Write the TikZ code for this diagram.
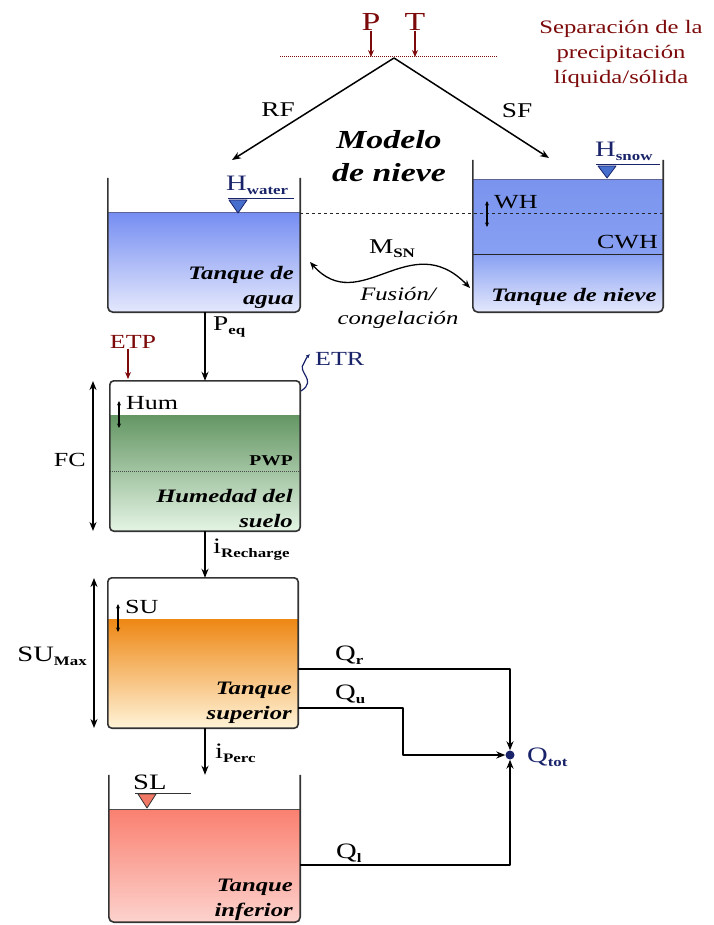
\documentclass[tikz,border=0pt]{standalone}
\usepackage{fontspec}
\setmainfont[FakeStretch=1.3]{Liberation Serif}
\usetikzlibrary{arrows.meta,calc}
\definecolor{dred}{RGB}{125,10,10}
\definecolor{navy}{RGB}{25,35,105}
\definecolor{wblue}{RGB}{118,142,242}
\definecolor{wblueM}{RGB}{135,158,244}
\definecolor{wblueL}{RGB}{228,232,252}
\definecolor{sblue}{RGB}{136,160,242}
\definecolor{sblueT}{RGB}{122,148,238}
\definecolor{tblue}{RGB}{70,110,205}
\definecolor{gtop}{RGB}{100,150,100}
\definecolor{gmid}{RGB}{130,172,130}
\definecolor{gbot}{RGB}{228,244,228}
\definecolor{otop}{RGB}{238,135,20}
\definecolor{omid}{RGB}{250,175,95}
\definecolor{obot}{RGB}{255,243,215}
\definecolor{rtop}{RGB}{250,128,112}
\definecolor{rmid}{RGB}{250,150,138}
\definecolor{rbot}{RGB}{252,210,205}
\definecolor{tred}{RGB}{240,120,100}
\newcommand\mysub[1]{{\fontsize{13}{13}\selectfont\bfseries\raisebox{-4pt}{#1}}}
\begin{document}
\begin{tikzpicture}[x=1pt,y=-1pt, line join=round,
  >={Stealth[length=9pt,width=7pt]},
  lbl/.style={font=\fontsize{20}{22}\selectfont, inner sep=0},
  tname/.style={font=\fontsize{19}{25}\selectfont\bfseries\itshape, align=right, anchor=east, inner sep=0},
  wall/.style={line width=1.6pt, draw=black!80, rounded corners=5pt},
  flow/.style={->, line width=1.5pt},
  small/.style={<->, line width=1.1pt, >={Stealth[length=4.5pt,width=4pt]}},
  tankbox/.style={inner sep=0, draw=none}]
\useasboundingbox (0,0) rectangle (713,925);

% ---------- top separation ----------
\coordinate (sepL) at (280,57);
\coordinate (sepR) at (498,57);
\draw[dred, densely dotted, line width=1pt] (sepL) -- (sepR);
\node[lbl, dred, font=\fontsize{26}{26}\selectfont] (P) at (371,22) {P};
\node[lbl, dred, font=\fontsize{26}{26}\selectfont] (T) at (415,22) {T};
\draw[flow, dred, >={Stealth[length=7pt,width=6pt]}] (P.south) -- (P.south |- sepL);
\draw[flow, dred, >={Stealth[length=7pt,width=6pt]}] (T.south) -- (T.south |- sepL);
\node[dred, font=\fontsize{19}{25}\selectfont, align=center, inner sep=0] (sep) at (621,54)
  {Separación de la\\precipitación\\líquida/sólida};

\coordinate (apex) at (394,58);
\coordinate (rfend) at (232,160);
\coordinate (sfend) at (549,158);
\draw[flow] (apex) -- (rfend);
\draw[flow] (apex) -- (sfend);
\node[lbl, font=\fontsize{21}{22}\selectfont] (RF) at (278,110) {RF};
\node[lbl, font=\fontsize{21}{22}\selectfont] (SF) at (517,111) {SF};
\node[font=\fontsize{26}{33}\selectfont\bfseries\itshape, align=center, inner sep=0] (mn) at (389,156) {Modelo\\de nieve};

% ---------- water tank ----------
\node[tankbox, minimum width=192pt, minimum height=134pt] (wt) at (204,245) {};
\begin{scope}
\clip[rounded corners=5pt] (108,170) rectangle (300,312);
\shade[top color=wblue, middle color=wblueM, bottom color=wblueL] (108,213) rectangle (300,312);
\end{scope}
\draw[navy!70, line width=1pt] (108,213) -- (300,213);
\draw[wall] (wt.north west) -- (wt.south west) -- (wt.south east) -- (wt.north east);
\node[navy, inner sep=0, anchor=west] (hw) at (226,185) {\fontsize{22}{22}\selectfont H\mysub{water}};
\draw[navy, line width=1pt] (228,199) -- (294,199);
\draw[navy, fill=tblue, line width=0.8pt] (229,200) -- (247,200) -- (238,213) -- cycle;
\node[tname] (tw) at (294,287) {Tanque de\\agua};

% ---------- snow tank ----------
\node[tankbox, minimum width=190pt, minimum height=152pt] (st) at (568,236) {};
\begin{scope}
\clip[rounded corners=5pt] (473,150) rectangle (663,312);
\shade[top color=sblueT, bottom color=sblue] (473,180) rectangle (663,254);
\shade[top color=sblue, bottom color=wblueL] (473,254) rectangle (663,312);
\end{scope}
\draw[navy!70, line width=1pt] (473,180) -- (663,180);
\draw[black!85, line width=0.8pt] (473,254) -- (663,254);
\draw[black!85, dashed, line width=0.9pt] (300,213) -- (663,213);
\draw[wall] (st.north west) -- (st.south west) -- (st.south east) -- (st.north east);
\node[navy, inner sep=0, anchor=west] (hs) at (595,151) {\fontsize{22}{22}\selectfont H\mysub{snow}};
\draw[navy, line width=1pt] (596,165) -- (660,165);
\draw[navy, fill=tblue, line width=0.8pt] (598,166) -- (616,166) -- (607,178) -- cycle;
\node[lbl, anchor=west] (wh) at (494,202) {WH};
\draw[small] (487,201) -- (487,227);
\node[lbl, anchor=east] (cwh) at (658,242) {CWH};
\node[tname, anchor=center] (tsn) at (574,297) {Tanque de nieve};

% ---------- melting ----------
\coordinate (m1) at (310,262);
\coordinate (m2) at (470,288);
\draw[<->, line width=1.3pt, >={Stealth[length=8pt,width=6.5pt]}] (m1) .. controls (360,318) and (410,226) .. (m2);
\node[inner sep=0] (msn) at (392,249) {\fontsize{21}{22}\selectfont M\mysub{SN}};
\node[font=\fontsize{19}{24}\selectfont\itshape, align=center, inner sep=0] (fus) at (398,308) {Fusión/\\congelación};

% ---------- soil tank ----------
\node[tankbox, minimum width=190pt, minimum height=150pt] (soil) at (205,456) {};
\begin{scope}
\clip[rounded corners=5pt] (110,381) rectangle (300,531);
\shade[top color=gtop, middle color=gmid, bottom color=gbot] (110,415) rectangle (300,531);
\end{scope}
\draw[black!70, densely dotted, line width=1pt] (110,471) -- (300,471);
\draw[wall, rounded corners=4pt] (soil.north west) rectangle (soil.south east);
\node[lbl, anchor=west] (hum) at (126,403) {Hum};
\draw[small] (119,401) -- (119,428);
\node[font=\fontsize{15}{16}\selectfont\bfseries, anchor=east, inner sep=0] (pwp) at (293,461) {PWP};
\node[tname] (th) at (293,509) {Humedad del\\suelo};
\coordinate (fc1) at (93,381);
\coordinate (fc2) at (93,531);
\draw[<->, line width=1.5pt] (fc1) -- (fc2);
\node[lbl, anchor=east] (fc) at (86,460) {FC};
\node[lbl, dred] (etp) at (133,342) {ETP};
\draw[flow, dred, >={Stealth[length=7pt,width=6pt]}] (etp.south -| 128,0) -- (128,379);
\draw[flow] (wt.south -| 205,0) -- (soil.north);
\node[inner sep=0, anchor=west] (peq) at (213,327) {\fontsize{21}{22}\selectfont P\mysub{eq}};
\node[lbl, navy, anchor=west] (etr) at (315,359) {ETR};
\coordinate (etr0) at (301,391);
\coordinate (etr1) at (310,354);
\draw[navy, line width=1.2pt, -{Latex[length=4pt,width=4pt]}] (etr0) .. controls (318,380) and (296,372) .. (304,363) .. controls (306,359) and (307,357) .. (etr1);

% ---------- upper tank ----------
\node[tankbox, minimum width=190pt, minimum height=150pt] (up) at (203,653) {};
\begin{scope}
\clip[rounded corners=5pt] (108,578) rectangle (298,728);
\shade[top color=otop, middle color=omid, bottom color=obot] (108,619) rectangle (298,728);
\end{scope}
\draw[wall, rounded corners=4pt] (up.north west) rectangle (up.south east);
\node[lbl, anchor=west] (su) at (125,607) {SU};
\draw[small] (118,604) -- (118,632);
\node[tname] (tsu) at (292,703) {Tanque\\superior};
\coordinate (sm1) at (94,578);
\coordinate (sm2) at (94,728);
\draw[<->, line width=1.5pt] (sm1) -- (sm2);
\node[inner sep=0, anchor=east] (sumax) at (87,656) {\fontsize{22}{22}\selectfont SU\mysub{Max}};
\draw[flow] (soil.south -| 205,0) -- (up.north -| 205,0);
\node[inner sep=0, anchor=west] (irec) at (213,550) {\fontsize{22}{22}\selectfont i\mysub{Recharge}};

% ---------- lower tank ----------
\node[tankbox, minimum width=191pt, minimum height=147pt] (low) at (204.5,848.5) {};
\begin{scope}
\clip[rounded corners=5pt] (109,770) rectangle (300,922);
\shade[top color=rtop, middle color=rmid, bottom color=rbot] (109,809) rectangle (300,922);
\end{scope}
\draw[black!70, line width=0.8pt] (109,809) -- (300,809);
\draw[wall] (low.north west) -- (low.south west) -- (low.south east) -- (low.north east);
\node[lbl, anchor=west, font=\fontsize{22}{22}\selectfont] (sl) at (133,782) {SL};
\draw[black!80, line width=1pt] (135,793) -- (191,793);
\draw[black!80, fill=tred, line width=0.8pt] (138,794) -- (156,794) -- (147,808) -- cycle;
\node[tname] (tin) at (293,900) {Tanque\\inferior};
\draw[flow] (up.south -| 205,0) -- (low.north -| 205,0);
\node[inner sep=0, anchor=west] (iperc) at (215,753) {\fontsize{22}{22}\selectfont i\mysub{Perc}};

% ---------- outflows ----------
\node[circle, fill=navy, inner sep=0, minimum size=9pt] (qt) at (510,755) {};
\node[navy, inner sep=0, anchor=west] (qtot) at (527,757) {\fontsize{22}{22}\selectfont Q\mysub{tot}};
\coordinate (qr0) at (298,669);
\coordinate (qu0) at (298,708);
\coordinate (qub) at (403,708);
\coordinate (ql0) at (300,865);
\draw[flow] (qr0) -| (qt.north);
\draw[flow] (qu0) -- (qub) |- (qt.west);
\draw[flow] (ql0) -| (qt.south);
\node[inner sep=0, anchor=west] (qr) at (335,655) {\fontsize{22}{22}\selectfont Q\mysub{r}};
\node[inner sep=0, anchor=west] (qu) at (335,694) {\fontsize{22}{22}\selectfont Q\mysub{u}};
\node[inner sep=0, anchor=west] (ql) at (336,853) {\fontsize{22}{22}\selectfont Q\mysub{l}};
\end{tikzpicture}
\end{document}
